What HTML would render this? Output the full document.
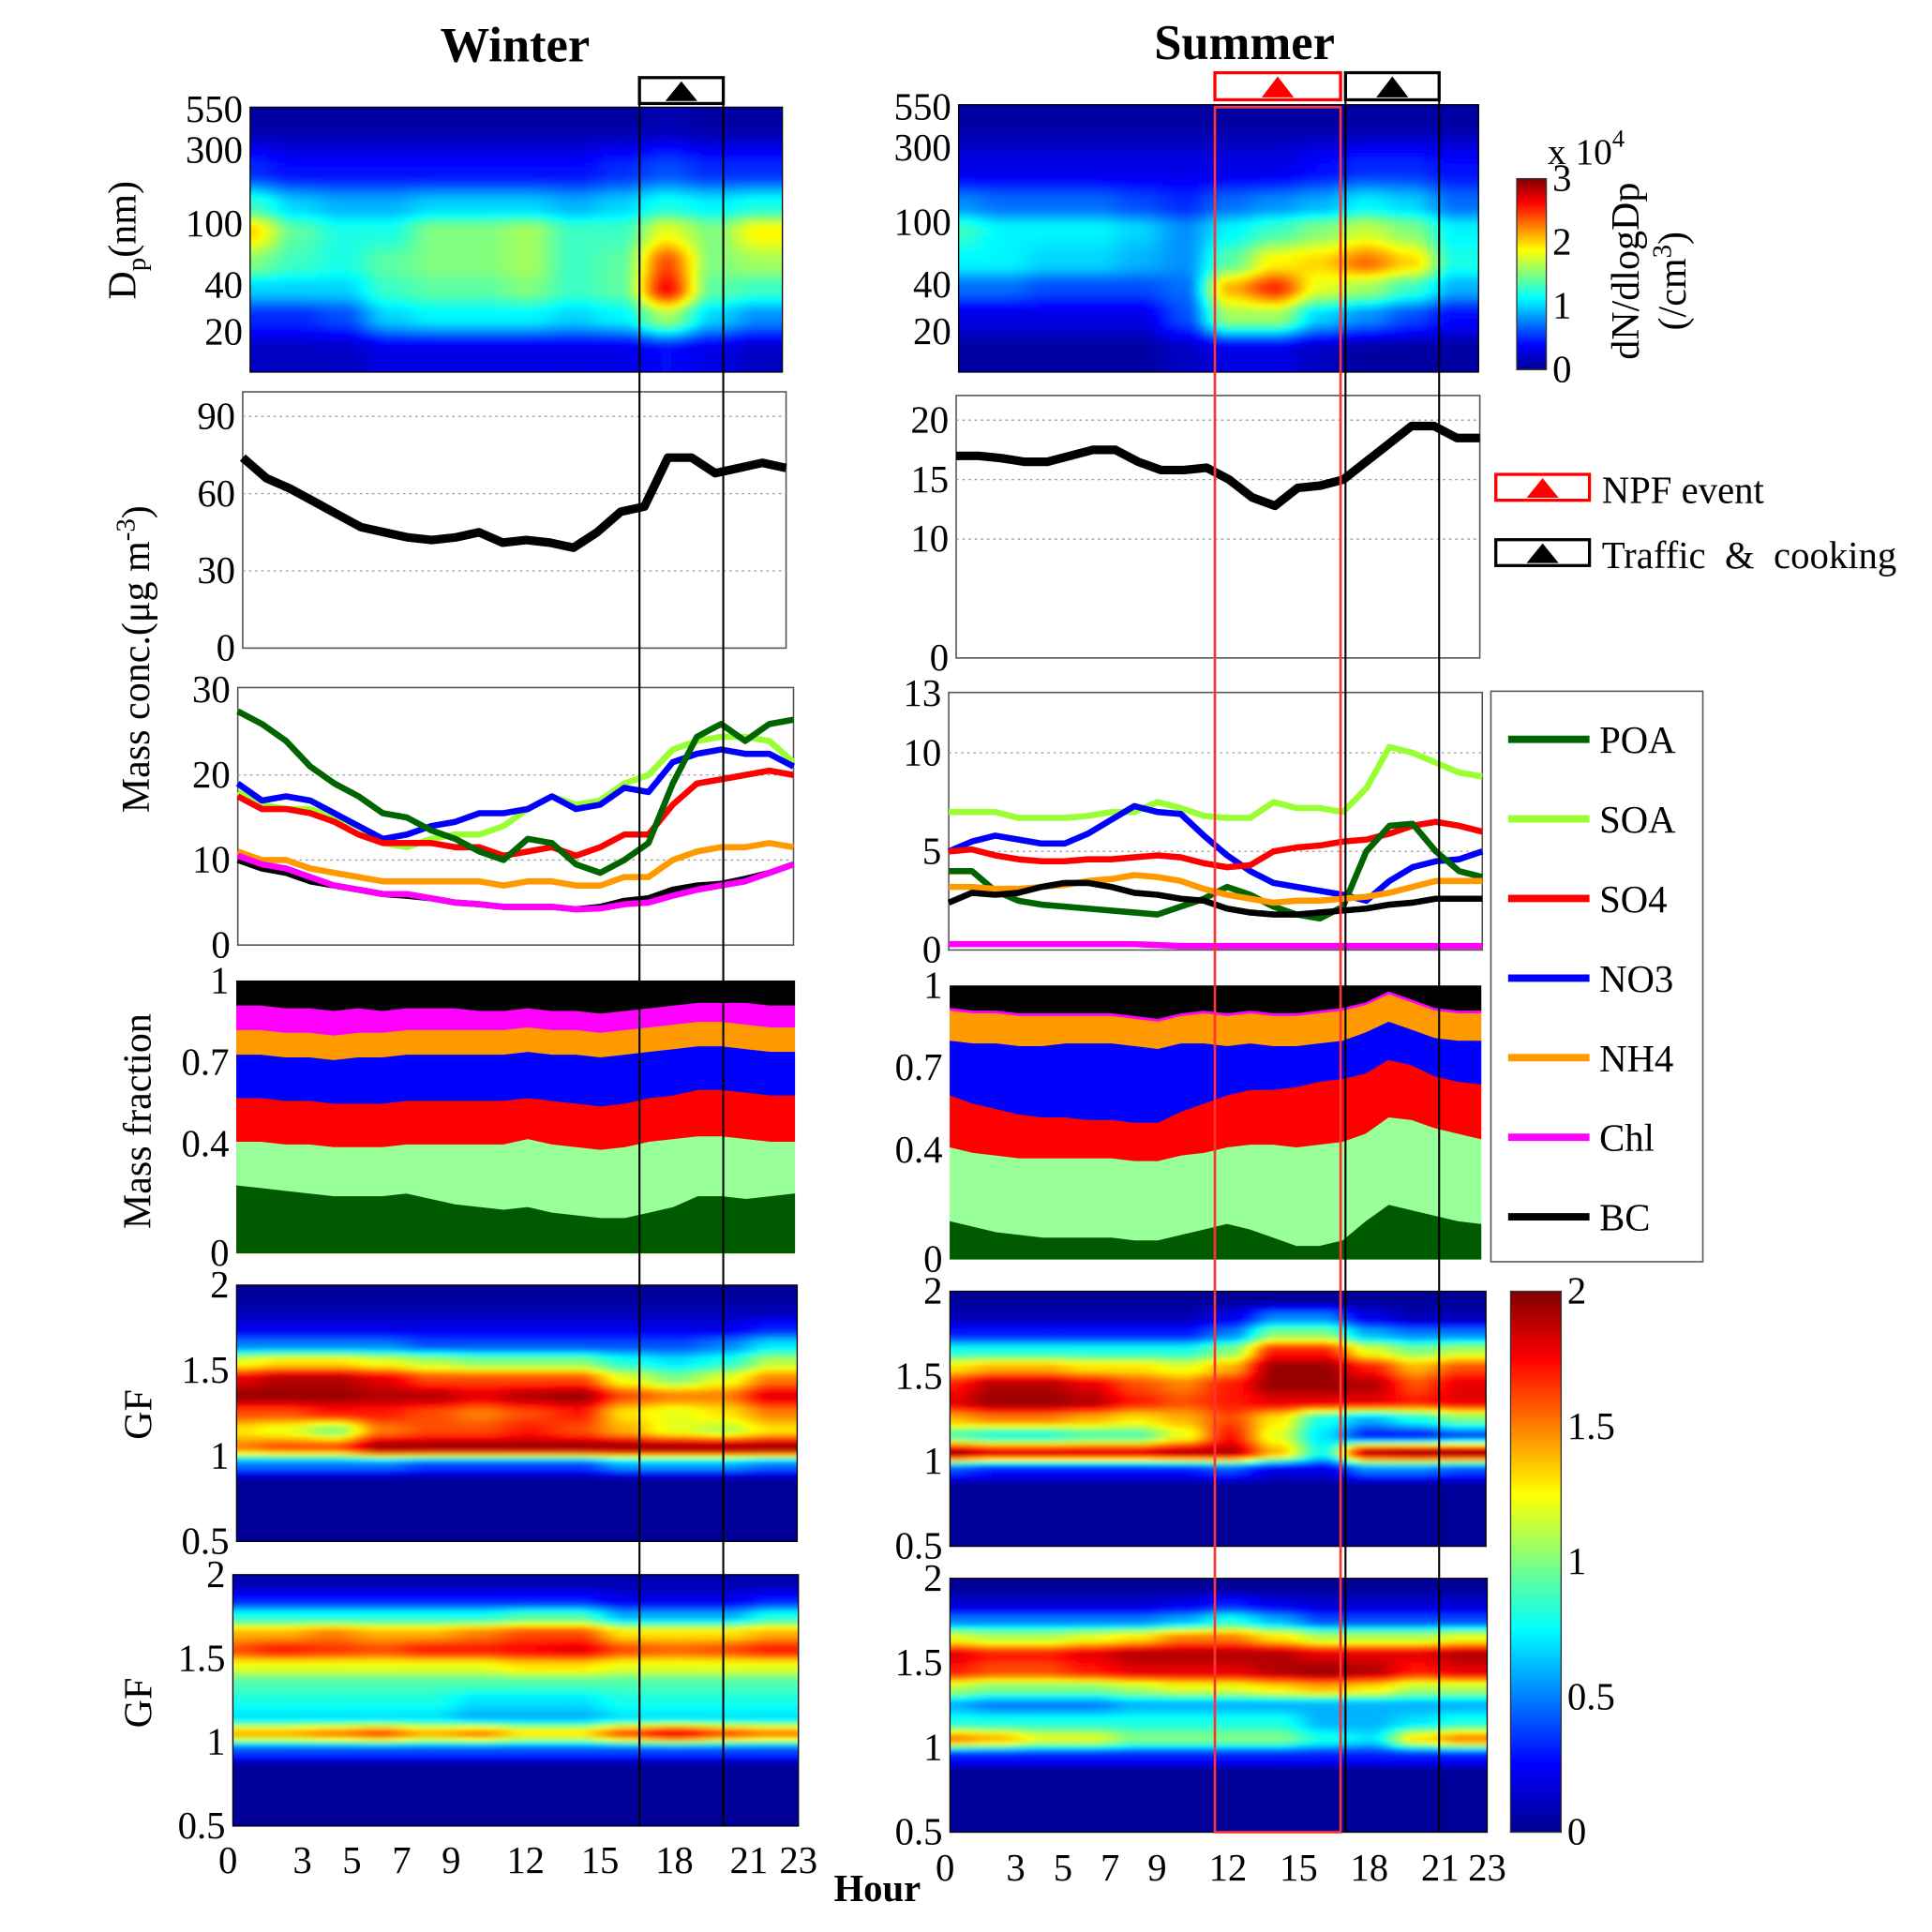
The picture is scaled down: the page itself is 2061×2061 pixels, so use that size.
<!DOCTYPE html>
<html><head><meta charset="utf-8"><style>
html,body{margin:0;padding:0;background:#fff}
svg{display:block}
text{font-family:"Liberation Serif",serif}
</style></head><body>
<svg id="fig" xmlns="http://www.w3.org/2000/svg" width="2061" height="2061" viewBox="0 0 1568 1568">
<defs>
<filter id="blur" x="-2%" y="-2%" width="104%" height="104%"><feGaussianBlur stdDeviation="1.6"/></filter>
<linearGradient id="jetv" x1="0" y1="1" x2="0" y2="0">
<stop offset="0" stop-color="#00008f"/><stop offset="0.125" stop-color="#0000ff"/><stop offset="0.375" stop-color="#00ffff"/><stop offset="0.625" stop-color="#ffff00"/><stop offset="0.875" stop-color="#ff0000"/><stop offset="1" stop-color="#800000"/>
</linearGradient>
</defs>
</svg>
<script>
const hours=[0,1,2,3,4,5,6,7,8,9,10,11,12,13,14,15,16,17,18,19,20,21,22,23];
const heatHours=[0,2,4,6,8,10,12,14,16,18,20,22];
const dpRowsNm=[450,220,130,90,55,38,25,15];
const gfRows=[1.95,1.85,1.75,1.65,1.55,1.45,1.35,1.25,1.15,1.05,0.95,0.85,0.75,0.65,0.55];
const winterTotal=[74,66,62,57,52,47,45,43,42,43,45,41,42,41,39,45,53,55,74,74,68,70,72,70];
const summerTotal=[17,17,16.8,16.5,16.5,17,17.5,17.5,16.5,15.8,15.8,16,15,13.5,12.8,14.3,14.5,15,16.5,18,19.5,19.5,18.5,18.5];
const wPOA=[27.5,26,24,21,19,17.5,15.5,15,13.5,12.5,11,10,12.5,12,9.5,8.5,10,12,19,24.5,26,24,26,26.5];
const wSOA=[18,16.5,16,16,15,14,12,11.5,12.5,13,13,14,16,17.5,16.5,17,19,20,23,24,24.5,24.5,24,21.5];
const wSO4=[17.5,16,16,15.5,14.5,13,12,12,12,11.5,11.5,10.5,11,11.5,10.5,11.5,13,13,16.5,19,19.5,20,20.5,20];
const wNO3=[19,17,17.5,17,15.5,14,12.5,13,14,14.5,15.5,15.5,16,17.5,16,16.5,18.5,18,21.5,22.5,23,22.5,22.5,21];
const wNH4=[11,10,10,9,8.5,8,7.5,7.5,7.5,7.5,7.5,7,7.5,7.5,7,7,8,8,10,11,11.5,11.5,12,11.5];
const wChl=[10.5,9.5,9,8,7,6.5,6,6,5.5,5,4.8,4.5,4.5,4.5,4.2,4.3,4.8,5,5.8,6.5,7,7.5,8.5,9.5];
const wBC=[10,9,8.5,7.5,7,6.5,6,5.8,5.5,5,4.8,4.5,4.5,4.5,4.2,4.5,5.2,5.5,6.5,7,7.2,7.8,8.5,9.5];
const sSOA=[7,7,7,6.7,6.7,6.7,6.8,7,7,7.5,7.2,6.8,6.7,6.7,7.5,7.2,7.2,7,8.2,10.3,10,9.5,9,8.8];
const sNO3=[5,5.5,5.8,5.6,5.4,5.4,5.9,6.6,7.3,7,6.9,5.8,4.8,4,3.4,3.2,3,2.8,2.5,3.5,4.2,4.5,4.6,5];
const sSO4=[5,5.1,4.8,4.6,4.5,4.5,4.6,4.6,4.7,4.8,4.7,4.4,4.2,4.3,5,5.2,5.3,5.5,5.6,5.9,6.3,6.5,6.3,6];
const sPOA=[4,4,3,2.5,2.3,2.2,2.1,2,1.9,1.8,2.2,2.6,3.2,2.8,2.2,1.8,1.6,2.2,5,6.3,6.4,5,4,3.7];
const sNH4=[3.2,3.2,3.1,3.1,3.2,3.3,3.5,3.6,3.8,3.7,3.5,3.1,2.8,2.6,2.4,2.5,2.5,2.6,2.7,2.9,3.2,3.5,3.5,3.5];
const sBC=[2.4,2.9,2.8,2.9,3.2,3.4,3.4,3.2,2.9,2.8,2.6,2.5,2.1,1.9,1.8,1.8,1.9,2,2.1,2.3,2.4,2.6,2.6,2.6];
const sChl=[0.3,0.3,0.3,0.3,0.3,0.3,0.3,0.3,0.3,0.25,0.2,0.2,0.2,0.2,0.2,0.2,0.2,0.2,0.2,0.2,0.2,0.2,0.2,0.2];
const wfPOA=[0.25,0.24,0.23,0.22,0.21,0.21,0.21,0.22,0.2,0.18,0.17,0.16,0.17,0.15,0.14,0.13,0.13,0.15,0.17,0.21,0.21,0.2,0.21,0.22];
const wfSOA=[0.16,0.17,0.17,0.18,0.18,0.18,0.18,0.18,0.2,0.22,0.23,0.24,0.25,0.25,0.25,0.25,0.26,0.26,0.25,0.22,0.22,0.22,0.2,0.19];
const wfSO4=[0.16,0.16,0.16,0.16,0.16,0.16,0.16,0.16,0.16,0.16,0.16,0.16,0.15,0.16,0.16,0.16,0.16,0.16,0.16,0.17,0.17,0.17,0.17,0.17];
const wfNO3=[0.16,0.16,0.16,0.16,0.16,0.17,0.17,0.17,0.17,0.17,0.17,0.17,0.17,0.17,0.18,0.18,0.18,0.17,0.17,0.16,0.16,0.16,0.16,0.16];
const wfNH4=[0.09,0.09,0.09,0.09,0.09,0.09,0.09,0.09,0.09,0.09,0.09,0.09,0.09,0.09,0.09,0.09,0.09,0.09,0.09,0.09,0.09,0.09,0.09,0.09];
const wfChl=[0.09,0.09,0.09,0.09,0.09,0.09,0.08,0.08,0.08,0.08,0.07,0.07,0.07,0.07,0.07,0.07,0.07,0.07,0.07,0.07,0.07,0.08,0.08,0.08];
const sfPOA=[0.14,0.12,0.1,0.09,0.08,0.08,0.08,0.08,0.07,0.07,0.09,0.11,0.13,0.11,0.08,0.05,0.05,0.07,0.14,0.2,0.18,0.16,0.14,0.13];
const sfSOA=[0.27,0.27,0.28,0.28,0.29,0.29,0.29,0.29,0.29,0.29,0.29,0.28,0.28,0.31,0.34,0.36,0.37,0.36,0.32,0.32,0.33,0.32,0.32,0.31];
const sfSO4=[0.19,0.18,0.17,0.16,0.15,0.15,0.14,0.14,0.14,0.14,0.16,0.18,0.19,0.2,0.2,0.22,0.23,0.23,0.22,0.21,0.2,0.19,0.19,0.2];
const sfNO3=[0.2,0.22,0.24,0.25,0.26,0.27,0.28,0.28,0.28,0.27,0.25,0.22,0.18,0.17,0.16,0.15,0.14,0.14,0.15,0.14,0.13,0.14,0.15,0.16];
const sfNH4=[0.11,0.11,0.11,0.11,0.11,0.1,0.1,0.1,0.1,0.1,0.1,0.11,0.11,0.11,0.11,0.11,0.11,0.11,0.1,0.1,0.1,0.1,0.1,0.1];
const sfChl=[0.01,0.01,0.01,0.01,0.01,0.01,0.01,0.01,0.01,0.01,0.01,0.01,0.01,0.01,0.01,0.01,0.01,0.01,0.01,0.01,0.01,0.01,0.01,0.01];
const wDp=[
[0.1,0.1,0.1,0.1,0.1,0.1,0.1,0.1,0.1,0.15,0.1,0.1],
[0.5,0.4,0.4,0.4,0.4,0.4,0.4,0.4,0.5,0.6,0.5,0.5],
[1.3,1.0,0.9,0.9,1.0,1.0,1.0,0.9,1.0,1.2,1.1,1.2],
[2.0,1.4,1.2,1.2,1.5,1.5,1.6,1.3,1.3,1.8,1.5,1.9],
[1.5,1.3,1.2,1.4,1.5,1.5,1.6,1.3,1.4,2.4,1.5,1.6],
[1.0,1.0,1.0,1.3,1.4,1.4,1.5,1.3,1.4,2.6,1.4,1.3],
[0.5,0.5,0.6,1.0,1.1,1.1,1.1,1.0,1.1,1.6,1.0,0.8],
[0.2,0.2,0.2,0.3,0.3,0.3,0.3,0.3,0.3,0.4,0.3,0.2]];
const sDp=[
[0.1,0.1,0.1,0.1,0.1,0.1,0.1,0.1,0.1,0.1,0.1,0.1],
[0.3,0.3,0.3,0.3,0.3,0.3,0.3,0.3,0.4,0.5,0.5,0.4],
[0.8,0.7,0.7,0.7,0.6,0.5,0.7,0.8,0.9,1.1,1.0,0.7],
[1.3,1.1,1.1,1.1,1.0,0.8,1.1,1.3,1.5,1.7,1.5,1.1],
[1.1,1.1,1.0,1.0,0.9,0.8,1.4,1.9,2.0,2.3,2.0,1.2],
[0.7,0.7,0.6,0.6,0.6,0.7,2.1,2.5,1.8,1.6,1.3,0.9],
[0.3,0.3,0.3,0.3,0.3,0.6,1.6,1.6,1.0,0.8,0.6,0.4],
[0.1,0.1,0.1,0.1,0.1,0.2,0.3,0.3,0.2,0.1,0.1,0.1]];
const Z=[0.05,0.05,0.05,0.05,0.05,0.05,0.05,0.05,0.05,0.05,0.05,0.05];
const wGF1=[
[0.05,0.05,0.05,0.05,0.05,0.05,0.05,0.05,0.05,0.05,0.05,0.05],
[0.1,0.1,0.1,0.1,0.1,0.1,0.1,0.1,0.1,0.1,0.1,0.1],
[0.2,0.2,0.2,0.2,0.2,0.2,0.2,0.2,0.2,0.2,0.2,0.3],
[0.5,0.5,0.5,0.5,0.4,0.4,0.4,0.4,0.4,0.4,0.5,0.7],
[1.2,1.3,1.3,1.2,1.1,1.0,1.0,1.0,0.8,0.7,0.8,1.1],
[1.8,1.9,1.9,1.8,1.6,1.6,1.6,1.6,1.2,1.0,1.2,1.5],
[1.95,1.95,1.95,1.9,1.9,1.8,1.9,1.95,1.6,1.5,1.5,1.8],
[1.6,1.6,1.7,1.7,1.6,1.5,1.6,1.7,1.3,1.2,1.3,1.5],
[1.3,1.2,1.0,1.5,1.6,1.6,1.7,1.6,1.4,1.2,1.1,1.3],
[1.5,1.6,1.6,1.95,1.95,1.95,1.95,1.95,1.95,1.95,1.95,1.95],
[0.5,0.5,0.5,0.5,0.4,0.4,0.4,0.4,0.6,0.6,0.6,0.5],
Z,Z,Z,Z];
const wGF2=[
[0.1,0.1,0.1,0.1,0.1,0.1,0.1,0.1,0.1,0.1,0.1,0.1],
[0.3,0.3,0.3,0.3,0.3,0.3,0.3,0.3,0.2,0.2,0.2,0.3],
[0.8,0.8,0.8,0.8,0.8,0.8,0.9,0.9,0.6,0.6,0.6,0.8],
[1.4,1.4,1.5,1.4,1.4,1.5,1.6,1.6,1.3,1.3,1.3,1.4],
[1.6,1.7,1.65,1.6,1.7,1.7,1.75,1.8,1.6,1.55,1.6,1.7],
[1.2,1.2,1.2,1.2,1.2,1.2,1.3,1.3,1.2,1.2,1.2,1.2],
[0.9,0.9,0.9,0.9,0.9,0.9,0.9,0.9,0.9,0.9,0.9,0.9],
[0.8,0.8,0.8,0.8,0.8,0.7,0.7,0.7,0.8,0.8,0.8,0.8],
[0.7,0.7,0.7,0.7,0.7,0.6,0.6,0.6,0.7,0.7,0.7,0.7],
[1.4,1.4,1.5,1.6,1.4,1.5,1.3,1.3,1.6,1.8,1.6,1.5],
[0.4,0.4,0.4,0.4,0.4,0.4,0.4,0.4,0.4,0.4,0.4,0.4],
Z,Z,Z,Z];
const sGF1=[
[0.05,0.05,0.05,0.05,0.05,0.05,0.05,0.05,0.05,0.05,0.05,0.05],
[0.1,0.1,0.1,0.1,0.1,0.1,0.2,0.5,0.5,0.2,0.1,0.1],
[0.3,0.3,0.3,0.3,0.3,0.3,0.5,1.0,1.0,0.6,0.5,0.5],
[0.8,0.8,0.8,0.8,0.8,0.8,1.0,1.7,1.7,1.2,1.0,1.1],
[1.3,1.4,1.4,1.3,1.3,1.2,1.4,1.95,1.95,1.7,1.4,1.6],
[1.7,1.9,1.9,1.8,1.6,1.5,1.7,1.95,1.95,1.9,1.6,1.8],
[1.8,1.95,1.95,1.9,1.7,1.6,1.7,1.8,1.8,1.8,1.7,1.8],
[1.4,1.5,1.5,1.4,1.3,1.4,1.6,1.3,0.8,0.6,0.8,1.0],
[0.9,0.8,0.8,0.9,0.9,1.2,1.7,1.2,0.7,0.3,0.3,0.4],
[1.95,1.8,1.8,1.8,1.8,1.9,1.9,1.4,0.8,1.9,1.95,1.95],
[0.4,0.3,0.3,0.3,0.3,0.3,0.4,0.2,0.2,0.5,0.5,0.4],
Z,Z,Z,Z];
const sGF2=[
[0.05,0.05,0.05,0.05,0.05,0.05,0.05,0.05,0.05,0.05,0.05,0.05],
[0.15,0.15,0.15,0.15,0.15,0.2,0.3,0.2,0.15,0.15,0.15,0.15],
[0.5,0.5,0.5,0.5,0.5,0.6,0.8,0.6,0.4,0.4,0.4,0.4],
[1.2,1.1,1.1,1.2,1.3,1.5,1.5,1.3,1.1,1.1,1.1,1.2],
[1.8,1.7,1.7,1.8,1.9,1.9,1.9,1.9,1.8,1.8,1.8,1.9],
[1.7,1.6,1.6,1.7,1.8,1.8,1.8,1.9,1.95,1.9,1.7,1.8],
[1.1,1.0,1.0,1.0,1.1,1.2,1.2,1.3,1.4,1.3,1.1,1.1],
[0.6,0.5,0.5,0.5,0.6,0.6,0.6,0.6,0.6,0.6,0.6,0.6],
[0.8,0.8,0.8,0.8,0.8,0.8,0.8,0.8,0.6,0.6,0.7,0.8],
[1.5,1.4,1.2,1.2,1.0,1.0,1.0,1.0,0.8,0.7,1.3,1.5],
[0.3,0.3,0.3,0.3,0.3,0.3,0.3,0.3,0.3,0.3,0.3,0.3],
Z,Z,Z,Z];
const dpTicks=[550,300,100,40,20];
const xTicks=[0,3,5,7,9,12,15,18,21,23];
const wTotTicks=[0,30,60,90];
const sTotTicks=[0,10,15,20];
const wSpTicks=[0,10,20,30];
const sSpTicks=[0,5,10,13];
const fracTicks=[0,0.4,0.7,1];
const gfTicks=[0.5,1,1.5,2];
const cb1Ticks=[0,1,2,3];
const cb2Ticks=[0,0.5,1,1.5,2];
const speciesNames=['POA','SOA','SO4','NO3','NH4','Chl','BC'];
const speciesColors=['#006400','#99ff33','#ff0000','#0000ff','#ff9900','#ff00ff','#000000'];
const fracColors=['#005a00','#99ff99','#ff0000','#0000ff','#ff9900','#ff00ff','#000000'];

const NS='http://www.w3.org/2000/svg';
const svg=document.getElementById('fig');
function mk(tag,attrs,parent){const e=document.createElementNS(NS,tag);for(const k in attrs)e.setAttribute(k,attrs[k]);(parent||svg).appendChild(e);return e;}
function txt(s,x,y,size,anchor,parent,extra){const t=mk('text',Object.assign({x:x,y:y,'font-size':size,'text-anchor':anchor||'middle'},extra||{}),parent);t.textContent=s;return t;}
function jet(t){t=Math.max(0,Math.min(1,t));const c=v=>Math.round(255*Math.max(0,Math.min(1,1.5-Math.abs(v))));return 'rgb('+c(4*t-3)+','+c(4*t-2)+','+c(4*t-1)+')';}
function lin(d0,d1,r0,r1){return v=>r0+(v-d0)/(d1-d0)*(r1-r0);}
function sm(t){return t*t*(3-2*t);}

const W={p1:[203,635,87,302],p2:[197,638,318,526],p3:[193,644,558,767],p4:[192,645,796,1017],p5:[192,647,1043,1251],p6:[189,648,1278,1482]};
const S={p1:[778,1200,85,302],p2:[776,1201,321,534],p3:[770,1203,562,771],p4:[771,1202,800,1022],p5:[771,1206,1048,1255],p6:[771,1207,1281,1487]};
let clipId=0;

function heat(p,rows,rowVals,ys,vmax,name){
  const xinv=lin(p[0],p[1],0,23);
  clipId++;
  const cp=mk('clipPath',{id:'c'+clipId},svg.querySelector('defs'));
  mk('rect',{x:p[0],y:p[2],width:p[1]-p[0],height:p[3]-p[2]},cp);
  const outer=mk('g',{'clip-path':'url(#c'+clipId+')'});
  
  
  const g=mk('g',{filter:'url(#blur)'},outer);
  const rowPix=rowVals.map(ys);
  const nC=heatHours.length;
  function val(px,py){
    let c=xinv(px)/2; c=Math.max(0,Math.min(nC-1,c));
    const c0=Math.min(nC-2,Math.floor(c)); const tc=sm(c-c0);
    let r0,tr;
    if(py<=rowPix[0]){r0=0;tr=0;}
    else if(py>=rowPix[rowPix.length-1]){r0=rowPix.length-2;tr=1;}
    else{r0=0;while(rowPix[r0+1]<py)r0++;tr=sm((py-rowPix[r0])/(rowPix[r0+1]-rowPix[r0]));}
    const a=rows[r0][c0]*(1-tc)+rows[r0][c0+1]*tc;
    const b=rows[r0+1][c0]*(1-tc)+rows[r0+1][c0+1]*tc;
    return a*(1-tr)+b*tr;
  }
  const dx=4,dy=3;
  for(let py=p[2]-6;py<p[3]+6;py+=dy){
    for(let px=p[0]-6;px<p[1]+6;px+=dx){
      const cell=mk('rect',{x:px,y:py,width:dx+0.6,height:dy+0.6,fill:jet(val(px+dx/2,py+dy/2)/vmax)},g);
      
      
    }
  }
  mk('rect',{x:p[0],y:p[2],width:p[1]-p[0],height:p[3]-p[2],fill:'none',stroke:'#000','stroke-width':1});
}
function logY(p){const a=Math.log10(570),b=Math.log10(11);return v=>p[2]+(a-Math.log10(v))/(a-b)*(p[3]-p[2]);}
function yTicks(p,ticks,ys,fmt,grid){
  ticks.forEach(t=>{
    const y=ys(t);
    const l=txt(fmt?fmt(t):String(t),p[0]-6,y+10,31,'end');
    
    
    if(grid&&y>p[2]+3&&y<p[3]-3){const gl=mk('line',{x1:p[0],x2:p[1],y1:y,y2:y,stroke:'#999','stroke-dasharray':'2 3','stroke-width':1});
      
      }
  });
}
function box(p,name){const b=mk('rect',{x:p[0],y:p[2],width:p[1]-p[0],height:p[3]-p[2],fill:'none',stroke:'#555','stroke-width':1.2});
  
  }
function line(p,vals,ys,color,w,name){
  const x=lin(0,23,p[0],p[1]);
  const d=vals.map((v,i)=>(i?'L':'M')+x(hours[i]).toFixed(1)+' '+ys(v).toFixed(1)).join(' ');
  const pa=mk('path',{d:d,fill:'none',stroke:color,'stroke-width':w,'stroke-linejoin':'round'});
  
  
}
function stack(p,fr,name){
  const x=lin(0,23,p[0],p[1]);const ys=lin(0,1,p[3],p[2]);
  let low=hours.map(()=>0);
  for(let s=0;s<7;s++){
    const high=s<6?low.map((v,i)=>v+fr[s][i]):hours.map(()=>1);
    let d='M'+hours.map((h,i)=>x(h).toFixed(1)+' '+ys(high[i]).toFixed(1)).join(' L');
    d+=' L'+hours.slice().reverse().map((h,j)=>{const i=23-j;return x(h).toFixed(1)+' '+ys(low[i]).toFixed(1);}).join(' L')+' Z';
    const a=mk('path',{d:d,fill:fracColors[s],stroke:fracColors[s],'stroke-width':0.5});
    
    
    low=high;
  }
}
function xTickLabels(p,y,name){
  const x=lin(0,23,p[0]-4,p[1]);
  xTicks.forEach(t=>{const l=txt(String(t),x(t),y,31,'middle');
    
    });
}

function column(P,dp,tot,totTicks,totMax,sp,spTicks,spMax,fr,g1,g2,side){
  heat(P.p1,dp,dpRowsNm,logY(P.p1),3,side+'-size-distribution-heatmap');
  yTicks(P.p1,dpTicks,logY(P.p1));
  const y2=lin(0,totMax,P.p2[3],P.p2[2]+20);
  box(P.p2,side+'-total-mass-panel');
  yTicks(P.p2,totTicks,y2,null,true);
  line(P.p2,tot,y2,'#000',7,side+'-total-mass-line');
  const y3=lin(0,spMax,P.p3[3],P.p3[2]+(side==='winter'?2:1));
  box(P.p3,side+'-species-panel');
  yTicks(P.p3,spTicks,y3,null,true);
  const order=[1,3,2,0,4,6,5];
  order.forEach(i=>line(P.p3,sp[i],y3,speciesColors[i],5,side+'-'+speciesNames[i].toLowerCase()+'-line'));
  stack(P.p4,fr,side+'-fraction');
  yTicks(P.p4,fracTicks,lin(0,1,P.p4[3],P.p4[2]));
  const gy5=lin(0.5,2,P.p5[3],P.p5[2]);
  heat(P.p5,g1,gfRows,gy5,2,side+'-gf-heatmap-1');
  yTicks(P.p5,gfTicks,gy5);
  const gy6=lin(0.5,2,P.p6[3],P.p6[2]);
  heat(P.p6,g2,gfRows,gy6,2,side+'-gf-heatmap-2');
  yTicks(P.p6,gfTicks,gy6);
}
column(W,wDp,winterTotal,wTotTicks,90,[wPOA,wSOA,wSO4,wNO3,wNH4,wChl,wBC],wSpTicks,30,[wfPOA,wfSOA,wfSO4,wfNO3,wfNH4,wfChl],wGF1,wGF2,'winter');
column(S,sDp,summerTotal,sTotTicks,20,[sPOA,sSOA,sSO4,sNO3,sNH4,sChl,sBC],sSpTicks,13,[sfPOA,sfSOA,sfSO4,sfNO3,sfNH4,sfChl],sGF1,sGF2,'summer');
xTickLabels(W.p6,1520,'winter-x-tick');
xTickLabels(S.p6,1526,'summer-x-tick');

let t;
t=txt('Winter',418,50,40,'middle',svg,{'font-weight':'bold'});

t=txt('Summer',1010,48,40,'middle',svg,{'font-weight':'bold'});

t=txt('Hour',712,1543,31,'middle',svg,{'font-weight':'bold'});


function vtext(s,x,y,size,name){const e=txt('',x,y,size,'middle',svg,{transform:'rotate(-90 '+x+' '+y+')'});e.innerHTML=s;
  return e;}
vtext('D<tspan font-size="22" dy="8">p</tspan><tspan dy="-8">(nm)</tspan>',110,195,32,'dp-axis-title');
vtext('Mass  conc.(μg m<tspan font-size="22" dy="-12">-3</tspan><tspan dy="12">)</tspan>',121,535,32,'mass-conc-axis-title');
vtext('Mass fraction',122,910,32,'mass-fraction-axis-title');
vtext('GF',123,1148,32,'gf-axis-title-1');
vtext('GF',123,1382,32,'gf-axis-title-2');

function evBox(x0,x1,y0,y1,color,name){
  const g=mk('g',{});
  
  
  mk('rect',{x:x0,y:y0,width:x1-x0,height:y1-y0,fill:'#fff',stroke:color,'stroke-width':2.5},g);
  const cx=(x0+x1)/2;
  mk('polygon',{points:(cx-13)+','+(y1-2)+' '+(cx+13)+','+(y1-2)+' '+cx+','+(y0+3),fill:color},g);
}
evBox(519,587,63,84,'#000','winter-traffic-marker');
evBox(986,1088,59,81,'#ff0000','summer-npf-marker');
evBox(1092,1168,59,81,'#000','summer-traffic-marker');
function vl(x,y0,y1,c,name){const l=mk('line',{x1:x,x2:x,y1:y0,y2:y1,stroke:c,'stroke-width':1.6});
  }
vl(519,84,1482,'#000','winter-traffic-start');
vl(587,84,1482,'#000','winter-traffic-end');
vl(1092,81,1487,'#000','summer-traffic-start');
vl(1168,81,1487,'#000','summer-traffic-end');
const npf=mk('rect',{x:986,y:87,width:102,height:1400,fill:'none',stroke:'#ff3333','stroke-width':2});


evBox(1214,1290,385,406,'#ff0000','npf-legend-icon');
t=txt('NPF event',1300,408,31,'start');
evBox(1214,1290,438,459,'#000','traffic-legend-icon');
t=txt('Traffic  &  cooking',1300,461,31,'start',svg,{style:'white-space:pre'});

const lg=mk('g',{});


mk('rect',{x:1210,y:561,width:172,height:463,fill:'#fff',stroke:'#555','stroke-width':1.2},lg);
speciesNames.forEach((n,i)=>{
  const y=600+i*64.6;
  const e=mk('g',{},lg);
  
  
  mk('line',{x1:1224,x2:1290,y1:y,y2:y,stroke:speciesColors[i],'stroke-width':6},e);
  txt(n,1298,y+11,31,'start',e);
});

function cbar(x,y0,w,y1,ticks,vmax,name,tx){
  const g=mk('g',{});
  
  
  mk('rect',{x:x,y:y0,width:w,height:y1-y0,fill:'url(#jetv)',stroke:'#333','stroke-width':1},g);
  const ys=lin(0,vmax,y1,y0);
  ticks.forEach(v=>{txt(String(v),tx,ys(v)+10,31,'start',g);});
}
cbar(1231,145,24,300,cb1Ticks,3,'size-colorbar',1260);
cbar(1226,1048,41,1487,cb2Ticks,2,'gf-colorbar',1272);
t=txt('x 10',1256,133,30,'start',svg);t.innerHTML='x 10<tspan font-size="20" dy="-14">4</tspan>';

vtext('dN/dlogDp',1330,220,32,'colorbar-title');
vtext('(/cm<tspan font-size="22" dy="-12">3</tspan><tspan dy="12">)</tspan>',1368,228,32,'colorbar-units');
</script>
</body></html>
